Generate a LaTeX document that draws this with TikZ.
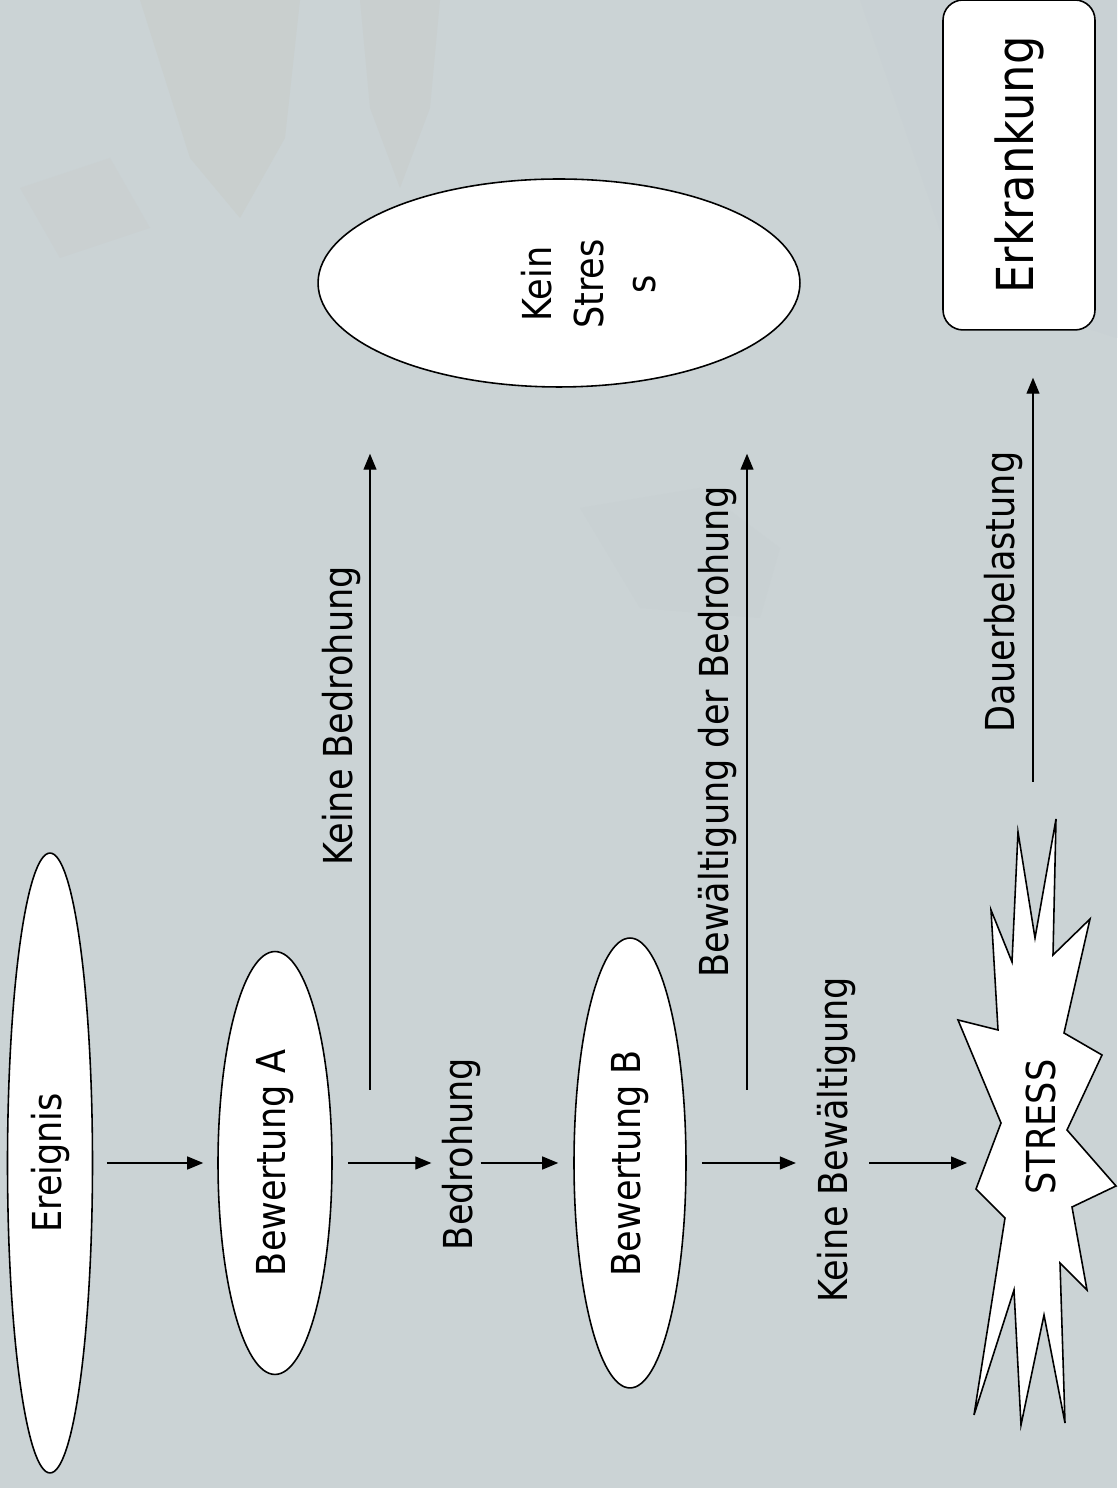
\documentclass[tikz,border=0pt]{standalone}
\usepackage{fontspec}
\setmainfont[FakeStretch=0.88]{DejaVu Sans}
\usetikzlibrary{shapes.geometric,arrows.meta}
\definecolor{marble}{RGB}{203,211,213}
\definecolor{vein}{RGB}{178,160,128}
\definecolor{shade}{RGB}{158,170,178}

\begin{document}
\begin{tikzpicture}[x=0.02cm, y=0.02cm,
    txt/.style={rotate=90, inner sep=0pt, font=\fontsize{22.7}{29.6}\selectfont},
    stage/.style={txt, ellipse, draw, fill=white, line width=0.9pt},
    arr/.style={-{Triangle[length=0.32cm,width=0.26cm]}, line width=0.7pt}]

  % Background: 1 unit = 1 px of the 1117x1488 page
  \useasboundingbox (0,0) rectangle (1117,1488);
  \fill[marble] (0,0) rectangle (1117,1488);
  \fill[marble!92!vein] (140,1488) -- (300,1488) -- (285,1350) -- (240,1270) -- (190,1330) -- cycle;
  \fill[marble!93!vein] (360,1488) -- (440,1488) -- (430,1380) -- (400,1300) -- (370,1380) -- cycle;
  \fill[marble!95!vein] (20,1300) -- (110,1330) -- (150,1260) -- (60,1230) -- cycle;
  \fill[marble!95!shade] (580,980) -- (700,1000) -- (780,940) -- (760,870) -- (640,880) -- cycle;
  \fill[marble!96!shade] (860,1488) -- (1117,1488) -- (1117,1150) -- (960,1200) -- cycle;

  % Stages along the bottom row
  \node[stage, minimum width=12.4cm, minimum height=1.7cm] (ereignis) at (50,325) {Ereignis};
  \node[stage, minimum width=8.46cm, minimum height=2.28cm] (bewA) at (275,325) {Bewertung A};
  \node[txt] (bedr) at (461,334) {Bedrohung};
  \node[stage, minimum width=9.0cm, minimum height=2.24cm] (bewB) at (630,325) {Bewertung B};
  \node[txt] (keinebew) at (836,348) {Keine Bewältigung};

  % STRESS burst
  \draw[fill=white, line width=0.9pt] (1056,669) -- (1053,533) -- (1090,569) -- (1064,455)
    -- (1102,433) -- (1067,358) -- (1116,302) -- (1072,281) -- (1087,198) -- (1060,225)
    -- (1065,65) -- (1044,173) -- (1021,63) -- (1014,198) -- (974,73) -- (1005,270)
    -- (976,299) -- (1001,365) -- (958,468) -- (998,458) -- (991,578) -- (1012,526)
    -- (1018,656) -- (1035,550) -- cycle;
  \node[txt] (stress) at (1041,361) {STRESS};
  \coordinate (burstin) at (967,325);
  \coordinate (burstTop) at (1033,706);

  % Outcomes at the top
  \node[ellipse, draw, fill=white, line width=0.9pt, minimum width=9.64cm, minimum height=4.16cm] (kstress) at (559,1205) {};
  \node[txt, align=center] (kstext) at (589,1204) {Kein\\Stres\\s};
  \node[txt, draw, fill=white, rounded corners=0.4cm, line width=0.9pt, minimum width=6.6cm,
    minimum height=3.04cm, font=\fontsize{29}{33}\selectfont] (erkr) at (1019,1323) {Erkrankung};

  % Horizontal arrows
  \draw[arr, shorten <=0.27cm, shorten >=0.28cm] (ereignis) -- (bewA);
  \draw[arr, shorten <=0.3cm, shorten >=0.2cm] (bewA) -- (bewA -| bedr.north);
  \draw[arr, shorten >=0.3cm] (bedr.south |- bewB) -- (bewB);
  \draw[arr, shorten <=0.3cm, shorten >=0.41cm] (bewB) -- (bewB -| keinebew.north);
  \draw[arr, shorten <=0.27cm] (keinebew.south |- burstin) -- (burstin);

  % Upward arrows with labels
  \coordinate (kbfoot) at (370,398);
  \coordinate (bwfoot) at (747,398);
  \draw[arr, shorten >=1.32cm] (kbfoot) -- (kbfoot |- kstress.south);
  \draw[arr, shorten >=1.32cm] (bwfoot) -- (bwfoot |- kstress.south);
  \draw[arr, shorten >=0.94cm] (burstTop) -- (burstTop |- erkr.west);
  \node[txt] (kbtext) at (341,772) {Keine Bedrohung};
  \node[txt] (bwtext) at (717,756) {Bewältigung der Bedrohung};
  \node[txt] (dauer) at (1003,896) {Dauerbelastung};
\end{tikzpicture}
\end{document}
